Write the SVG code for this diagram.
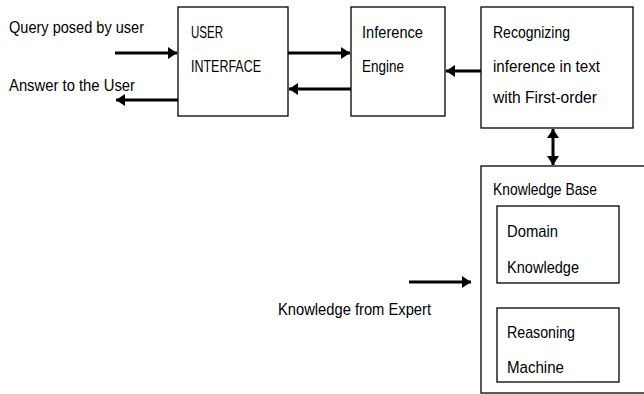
<svg xmlns="http://www.w3.org/2000/svg" width="644" height="394" viewBox="0 0 644 394">
<style>
.box{fill:#fff;stroke:#000;stroke-width:1.3}
.t{font-family:"Liberation Sans",Arial,sans-serif;font-size:17px;fill:#000}
.c{stroke:#000;stroke-width:3;fill:none}
</style>
<defs>
<marker id="ah" markerUnits="userSpaceOnUse" markerWidth="10" markerHeight="12" refX="9" refY="6" orient="auto-start-reverse">
<path d="M0,0 L9,6 L0,12 Z" fill="#000"/>
</marker>
</defs>
<rect width="644" height="394" fill="#fff"/>
<g id="ui">
<rect class="box" x="178" y="7" width="110" height="109"/>
<text class="t" x="191" y="38" textLength="32" lengthAdjust="spacingAndGlyphs">USER</text>
<text class="t" x="191" y="72" textLength="70" lengthAdjust="spacingAndGlyphs">INTERFACE</text>
</g>
<g id="ie">
<rect class="box" x="351" y="7" width="94" height="109"/>
<text class="t" x="362" y="38" textLength="61" lengthAdjust="spacingAndGlyphs">Inference</text>
<text class="t" x="362" y="72" textLength="42" lengthAdjust="spacingAndGlyphs">Engine</text>
</g>
<g id="rec">
<rect class="box" x="481" y="7" width="152" height="121"/>
<text class="t" x="493" y="38" textLength="77" lengthAdjust="spacingAndGlyphs">Recognizing</text>
<text class="t" x="493" y="72" textLength="107" lengthAdjust="spacingAndGlyphs">inference in text</text>
<text class="t" x="493" y="103" textLength="104" lengthAdjust="spacingAndGlyphs">with First-order</text>
</g>
<g id="kb">
<rect class="box" x="481" y="166" width="170" height="227"/>
<text class="t" x="493" y="195" textLength="104" lengthAdjust="spacingAndGlyphs">Knowledge Base</text>
</g>
<g id="dk">
<rect class="box" x="497" y="206" width="122" height="77"/>
<text class="t" x="507" y="237" textLength="51" lengthAdjust="spacingAndGlyphs">Domain</text>
<text class="t" x="507" y="273" textLength="72" lengthAdjust="spacingAndGlyphs">Knowledge</text>
</g>
<g id="rm">
<rect class="box" x="497" y="308" width="122" height="74"/>
<text class="t" x="507" y="338" textLength="68" lengthAdjust="spacingAndGlyphs">Reasoning</text>
<text class="t" x="507" y="373" textLength="57" lengthAdjust="spacingAndGlyphs">Machine</text>
</g>
<g id="labels">
<text class="t" x="9" y="33" textLength="135" lengthAdjust="spacingAndGlyphs">Query posed by user</text>
<text class="t" x="9" y="91" textLength="126" lengthAdjust="spacingAndGlyphs">Answer to the User</text>
<text class="t" x="278" y="315" textLength="153" lengthAdjust="spacingAndGlyphs">Knowledge from Expert</text>
</g>
<g id="connectors">
<line class="c" x1="115" y1="53" x2="177" y2="53" marker-end="url(#ah)"/>
<line class="c" x1="178" y1="100" x2="116" y2="100" marker-end="url(#ah)"/>
<line class="c" x1="288" y1="53" x2="350" y2="53" marker-end="url(#ah)"/>
<line class="c" x1="351" y1="89" x2="289" y2="89" marker-end="url(#ah)"/>
<line class="c" x1="481" y1="71" x2="446" y2="71" marker-end="url(#ah)"/>
<line class="c" x1="553" y1="129" x2="553" y2="165" marker-start="url(#ah)" marker-end="url(#ah)"/>
<line class="c" x1="409" y1="282" x2="471" y2="282" marker-end="url(#ah)"/>
</g>
</svg>
